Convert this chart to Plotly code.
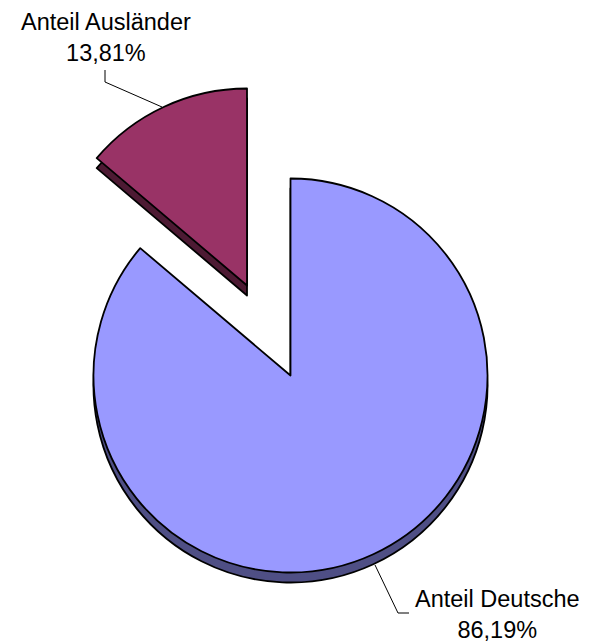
import plotly.graph_objects as go

# ---- data ----
labels = ["Anteil Deutsche", "Anteil Ausländer"]
values = [86.19, 13.81]
face_colors = ["#9999FF", "#993366"]
side_colors = ["#4F4F85", "#4D1A33"]

W, H = 589, 642

def px_dom(cx, cy, r):
    return dict(x=[(cx - r) / W, (cx + r) / W],
                y=[(H - cy - r) / H, (H - cy + r) / H])

R = 197
DEPTH = 10
main_c = (290.5, 375.5)      # centre of the Deutsche slice
pulled_c = (247.0, 285.5)    # centre of the exploded Ausländer slice

fig = go.Figure()

def add_slice(idx, centre, colors):
    cols = ["rgba(0,0,0,0)"] * len(values)
    cols[idx] = colors[idx]
    lw = [0] * len(values)
    lw[idx] = 1.8
    fig.add_trace(go.Pie(
        labels=labels, values=values, sort=False, direction="clockwise",
        rotation=0, textinfo="none", hoverinfo="skip", showlegend=False,
        marker=dict(colors=cols, line=dict(color="#000000", width=lw)),
        domain=px_dom(centre[0], centre[1], R),
    ))

# sides (3D depth)
add_slice(0, (main_c[0], main_c[1] + DEPTH), side_colors)
add_slice(1, (pulled_c[0], pulled_c[1] + DEPTH), side_colors)
# faces
add_slice(0, main_c, face_colors)
add_slice(1, pulled_c, face_colors)

def fmt(v):
    return f"{v:.2f}".replace(".", ",") + "%"

ann_pos = {"Anteil Ausländer": (106, 37.5), "Anteil Deutsche": (497, 614.5)}
for lab, val in zip(labels, values):
    ax, ay = ann_pos[lab]
    fig.add_annotation(
        text=f"{lab}<br>{fmt(val)}", xref="paper", yref="paper",
        x=ax / W, y=1 - ay / H, xanchor="center", yanchor="middle",
        showarrow=False, font=dict(family="Liberation Sans, Arial", size=23.5, color="#000000"),
    )

leaders = [
    [(105, 70), (105, 82), (162, 107)],
    [(375, 565), (398, 613), (409, 613)],
]
for pts in leaders:
    path = "M " + " L ".join(f"{x / W},{1 - y / H}" for x, y in pts)
    fig.add_shape(type="path", xref="paper", yref="paper", path=path,
                  line=dict(color="#000000", width=1))

fig.update_layout(
    width=W, height=H, margin=dict(l=0, r=0, t=0, b=0),
    paper_bgcolor="#FFFFFF", plot_bgcolor="#FFFFFF",
)
fig.write_html("out.html", config={"displayModeBar": False},
               post_script="document.body.style.margin='0';document.body.style.overflow='hidden';")
